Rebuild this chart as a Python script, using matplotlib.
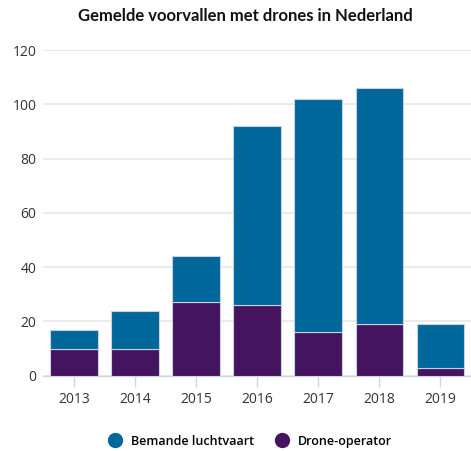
import matplotlib
matplotlib.use("Agg")
import matplotlib.pyplot as plt
import numpy as np
from matplotlib.lines import Line2D

years = ["2013", "2014", "2015", "2016", "2017", "2018", "2019"]
drone_operator = [10, 10, 27, 26, 16, 19, 3]
bemande_luchtvaart = [7, 14, 17, 66, 86, 87, 16]
yticks = [0, 20, 40, 60, 80, 100, 120]

blue = "#00679A"
purple = "#44155E"

plt.rcParams['font.family'] = ['Open Sans', 'DejaVu Sans']

fig = plt.figure(figsize=(4.71, 4.51), dpi=100)
ax = fig.add_axes([0.092, 0.167, 0.908, 0.722])

x = np.arange(len(years))
w = 0.78
ax.bar(x, drone_operator, width=w, color=purple, edgecolor="#c8d2de", linewidth=0.8,
       label="Drone-operator", zorder=3)
ax.bar(x, bemande_luchtvaart, width=w, bottom=drone_operator, color=blue,
       edgecolor="#c8d2de", linewidth=0.8, label="Bemande luchtvaart", zorder=3)

ax.set_xlim(-0.5, 6.5)
ax.set_ylim(0, 120)
ax.set_yticks(yticks)
ax.set_yticklabels([str(v) for v in yticks])
ax.set_xticks(x)
ax.set_xticklabels(years)
ax.grid(axis="y", color="#e6e6e6", linewidth=1.2, zorder=0)
for s in ["top", "right", "left"]:
    ax.spines[s].set_visible(False)
ax.spines["bottom"].set_color("#ccd6eb")
ax.spines["bottom"].set_linewidth(1.0)
ax.tick_params(axis="y", length=0, pad=5, labelsize=10, colors="#333333")
ax.tick_params(axis="x", length=8, width=1, color="#ccd6eb", pad=4, labelsize=10,
               labelcolor="#333333")

fig.suptitle("Gemelde voorvallen met drones in Nederland", x=0.52, y=0.982,
             fontsize=12, fontweight="bold", color="#111111",
             family=["Lato", "DejaVu Sans"])

h1 = Line2D([], [], marker="o", linestyle="", markersize=10, color=blue)
h2 = Line2D([], [], marker="o", linestyle="", markersize=10, color=purple)
fig.legend([h1, h2], ["Bemande luchtvaart", "Drone-operator"], loc="center",
           bbox_to_anchor=(0.525, 0.022), ncol=2, frameon=False,
           prop={"weight": "semibold", "size": 9}, handletextpad=0.3,
           columnspacing=1.2)

fig.savefig("out.png", dpi=100)
